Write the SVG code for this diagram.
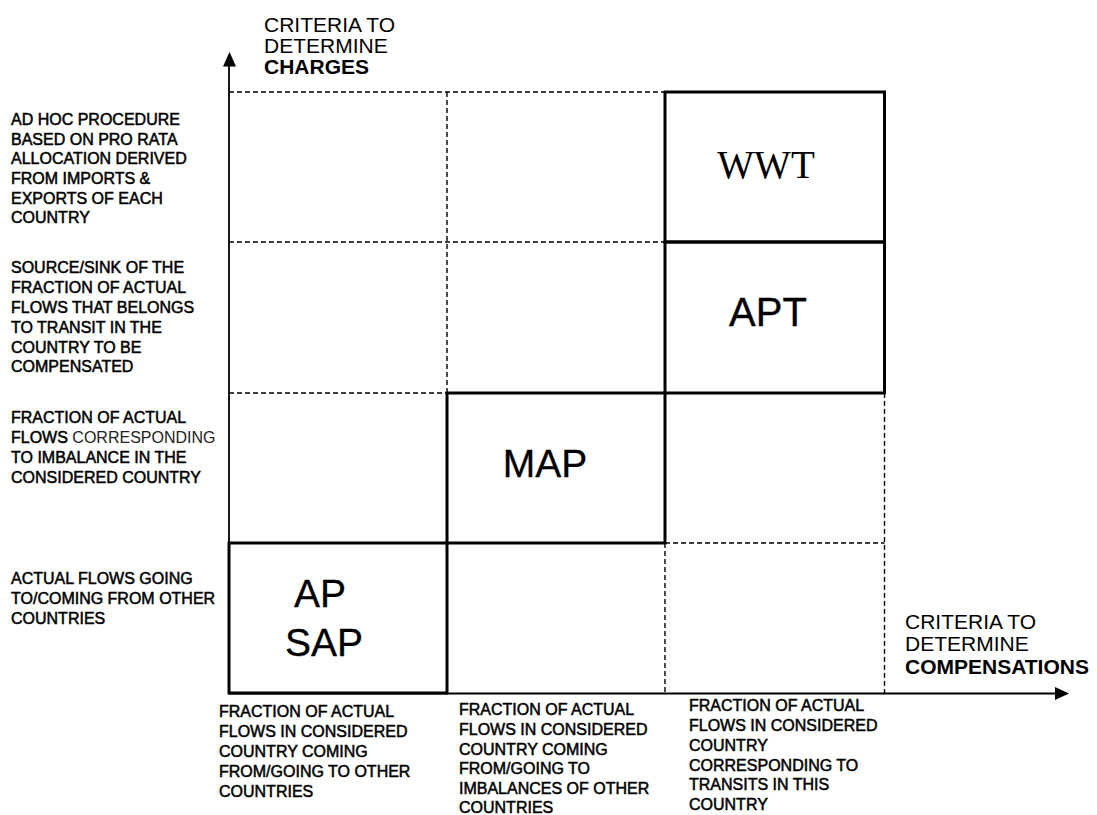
<svg xmlns="http://www.w3.org/2000/svg" width="1097" height="815" viewBox="0 0 1097 815">
  <style>
    .lbl { font-family: "Liberation Sans", Arial, sans-serif; font-size: 16px; fill: #000; stroke: #000; stroke-width: 0.5px; }
    .reg { stroke: none; fill: #222; }
    .axis { font-family: "Liberation Sans", Arial, sans-serif; font-size: 21px; fill: #000; }
    .b { font-weight: bold; }
    .big { font-family: "Liberation Sans", Arial, sans-serif; font-size: 39px; fill: #000; text-anchor: middle; stroke: #000; stroke-width: 0.3px; }
    .serif { font-family: "Liberation Serif", "Times New Roman", serif; }
    .box { fill: none; stroke: #000; stroke-width: 3; }
    .dash { fill: none; stroke: #000; stroke-width: 1.4; stroke-dasharray: 5 3; }
    .ax { fill: none; stroke: #000; stroke-width: 1.8; }
  </style>
  <rect width="1097" height="815" fill="#fff"/>

  <g id="grid">
    <line class="dash" x1="229" y1="92" x2="665" y2="92"/>
    <line class="dash" x1="229" y1="242" x2="665" y2="242"/>
    <line class="dash" x1="229" y1="393" x2="447" y2="393"/>
    <line class="dash" x1="665" y1="543" x2="884.5" y2="543"/>
    <line class="dash" x1="447" y1="92" x2="447" y2="393"/>
    <line class="dash" x1="665" y1="543" x2="665" y2="693"/>
    <line class="dash" x1="884.5" y1="393" x2="884.5" y2="693"/>
  </g>

  <g id="connectors">
    <line class="ax" x1="229" y1="693" x2="229" y2="64"/>
    <polygon points="229.5,52 223,66.5 236,66.5" fill="#000"/>
    <line class="ax" x1="229" y1="693.5" x2="1057" y2="693.5"/>
    <polygon points="1069,693.5 1055,687 1055,700" fill="#000"/>
  </g>

  <g id="node-sap">
    <rect class="box" x="229" y="543" width="218" height="150"/>
    <text class="big" x="320" y="607">AP</text>
    <text class="big" x="324" y="656">SAP</text>
  </g>
  <g id="node-map">
    <rect class="box" x="447" y="393" width="218" height="150"/>
    <text class="big" x="545" y="477">MAP</text>
  </g>
  <g id="node-apt">
    <rect class="box" x="665" y="242" width="219.5" height="151"/>
    <text class="big" x="768" y="326" style="font-size:40px">APT</text>
  </g>
  <g id="node-wwt">
    <rect class="box" x="665" y="92" width="219.5" height="150"/>
    <text class="big serif" x="766" y="178" style="stroke-width:0">WWT</text>
  </g>

  <g id="axis-labels">
    <text class="axis" x="264" y="32">CRITERIA TO</text>
    <text class="axis" x="264" y="53">DETERMINE</text>
    <text class="axis b" x="264" y="74">CHARGES</text>
    <text class="axis" x="905" y="629">CRITERIA TO</text>
    <text class="axis" x="905" y="651">DETERMINE</text>
    <text class="axis b" x="905" y="674">COMPENSATIONS</text>
  </g>

  <g id="row-labels">
    <text class="lbl" x="11" y="125">AD HOC PROCEDURE</text>
    <text class="lbl" x="11" y="145">BASED ON PRO RATA</text>
    <text class="lbl" x="11" y="164">ALLOCATION DERIVED</text>
    <text class="lbl" x="11" y="184">FROM IMPORTS &amp;</text>
    <text class="lbl" x="11" y="204">EXPORTS OF EACH</text>
    <text class="lbl" x="11" y="223">COUNTRY</text>

    <text class="lbl" x="11" y="273">SOURCE/SINK OF THE</text>
    <text class="lbl" x="11" y="293">FRACTION OF ACTUAL</text>
    <text class="lbl" x="11" y="313">FLOWS THAT BELONGS</text>
    <text class="lbl" x="11" y="333">TO TRANSIT IN THE</text>
    <text class="lbl" x="11" y="353">COUNTRY TO BE</text>
    <text class="lbl" x="11" y="372">COMPENSATED</text>

    <text class="lbl" x="11" y="423">FRACTION OF ACTUAL</text>
    <text class="lbl" x="11" y="443">FLOWS <tspan class="reg">CORRESPONDING</tspan></text>
    <text class="lbl" x="11" y="463">TO IMBALANCE IN THE</text>
    <text class="lbl" x="11" y="483">CONSIDERED COUNTRY</text>

    <text class="lbl" x="11" y="584">ACTUAL FLOWS GOING</text>
    <text class="lbl" x="11" y="604">TO/COMING FROM OTHER</text>
    <text class="lbl" x="11" y="624">COUNTRIES</text>
  </g>

  <g id="column-labels">
    <text class="lbl" x="219" y="717">FRACTION OF ACTUAL</text>
    <text class="lbl" x="219" y="737">FLOWS IN CONSIDERED</text>
    <text class="lbl" x="219" y="757">COUNTRY COMING</text>
    <text class="lbl" x="219" y="777">FROM/GOING TO OTHER</text>
    <text class="lbl" x="219" y="797">COUNTRIES</text>

    <text class="lbl" x="459" y="715">FRACTION OF ACTUAL</text>
    <text class="lbl" x="459" y="735">FLOWS IN CONSIDERED</text>
    <text class="lbl" x="459" y="755">COUNTRY COMING</text>
    <text class="lbl" x="459" y="774">FROM/GOING TO</text>
    <text class="lbl" x="459" y="794">IMBALANCES OF OTHER</text>
    <text class="lbl" x="459" y="813">COUNTRIES</text>

    <text class="lbl" x="689" y="711">FRACTION OF ACTUAL</text>
    <text class="lbl" x="689" y="731">FLOWS IN CONSIDERED</text>
    <text class="lbl" x="689" y="751">COUNTRY</text>
    <text class="lbl" x="689" y="771">CORRESPONDING TO</text>
    <text class="lbl" x="689" y="790">TRANSITS IN THIS</text>
    <text class="lbl" x="689" y="810">COUNTRY</text>
  </g>
</svg>
